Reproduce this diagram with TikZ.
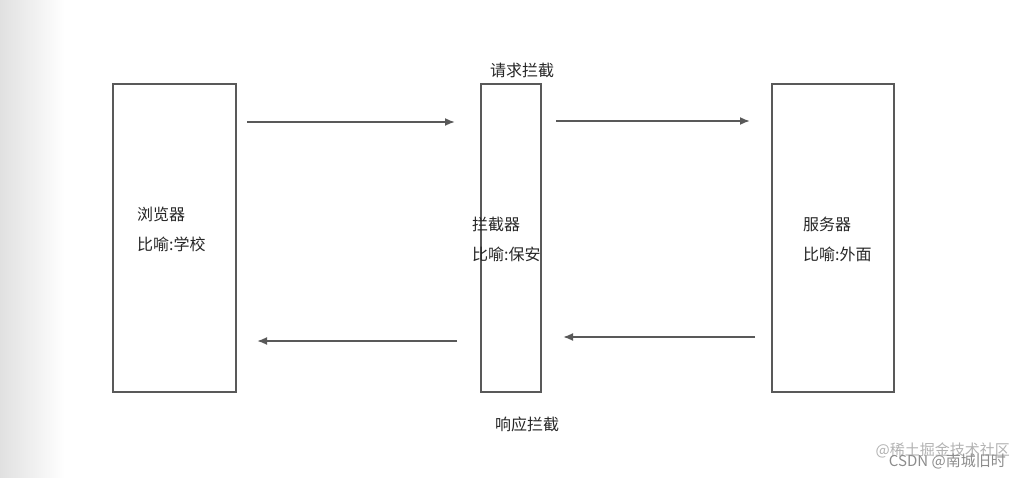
\documentclass[tikz,border=0pt]{standalone}
\usepackage{fontspec}
\setmainfont{Noto Sans CJK SC}
\usetikzlibrary{arrows.meta}
\begin{document}
\begin{tikzpicture}[x=1pt,y=-1pt,
 box/.style={draw=black!65,line width=1.8pt},
 arr/.style={draw=black!65,line width=1.8pt,-{Latex[length=10pt,width=8pt]}},
 txt/.style={font=\fontsize{16}{30}\selectfont,text=black!85,align=left,anchor=west,inner sep=0pt}]
\useasboundingbox (0,0) rectangle (1024,478);
\shade[left color=black!12,right color=white] (0,0) rectangle (65,478);
\draw[box] (113,84) rectangle (236,392);
\draw[box] (481,84) rectangle (541,392);
\draw[box] (772,84) rectangle (894,392);
\node[txt] (b) at (137,229) {浏览器\\比喻:学校};
\node[txt] (i) at (472,239) {拦截器\\比喻:保安};
\node[txt] (s) at (803,239) {服务器\\比喻:外面};
\node[txt,anchor=center] (req) at (522,70) {请求拦截};
\node[txt,anchor=center] (resp) at (527,424) {响应拦截};
\coordinate (a1) at (247,122); \coordinate (a2) at (455,122);
\coordinate (b1) at (556,121); \coordinate (b2) at (750,121);
\coordinate (c1) at (457,341); \coordinate (c2) at (257,341);
\coordinate (d1) at (755,337); \coordinate (d2) at (563,337);
\draw[arr] (a1) -- (a2);
\draw[arr] (b1) -- (b2);
\draw[arr] (c1) -- (c2);
\draw[arr] (d1) -- (d2);
\node[txt,font=\fontsize{15}{18}\selectfont,anchor=east,text=black!30] (w1) at (1010,450) {@稀土掘金技术社区};
\node[txt,font=\fontsize{15}{18}\selectfont,anchor=east,text=black!45] (w2) at (1006,461) {CSDN @南城旧时};
\end{tikzpicture}
\end{document}
